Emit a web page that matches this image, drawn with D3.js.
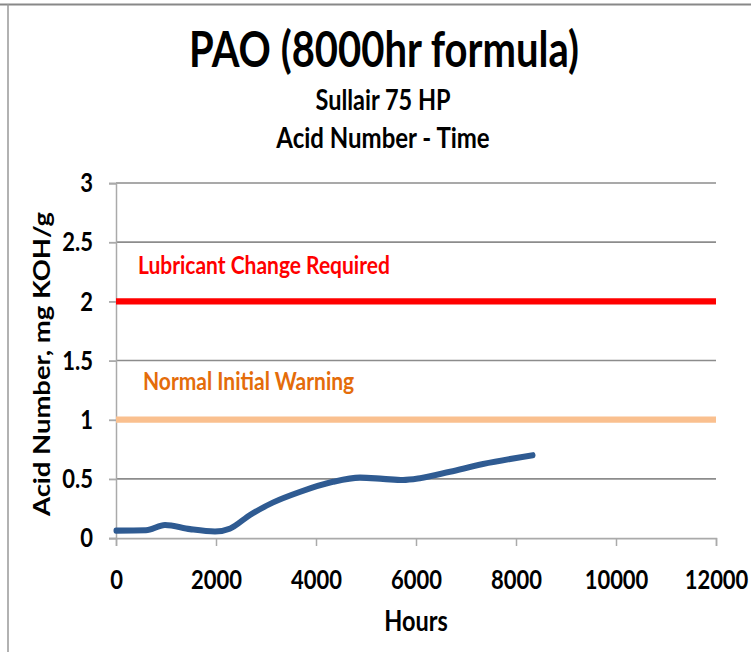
<!DOCTYPE html>
<html>
<head>
<meta charset="utf-8">
<script src="https://cdn.jsdelivr.net/npm/d3@7"></script>
<style>
  body { margin: 0; background: #fff; }
  svg { display: block; }
  text { font-family: Lato, "Open Sans", sans-serif; font-weight: bold; }
</style>
</head>
<body>
<div id="chart"></div>
<script>
  'use strict'
  // data
  let hours = [0, 600, 980, 1480, 1980, 2280, 2680, 3140, 3680, 4340, 4880, 5340, 5740, 6080, 6680, 7340, 8340]
  let acid = [0.062, 0.065, 0.11, 0.075, 0.055, 0.08, 0.195, 0.30, 0.39, 0.475, 0.51, 0.50, 0.49, 0.505, 0.56, 0.625, 0.70]
  let xTicks = [0, 2000, 4000, 6000, 8000, 10000, 12000]
  let yTicks = [0, 0.5, 1, 1.5, 2, 2.5, 3]
  let limitValues = [2, 1]
  let limitLabels = ["Lubricant Change Required", "Normal Initial Warning"]
  let limitColors = ["#ff0000", "#fac08f"]
  let labelColors = ["#ff0000", "#e46c0a"]

  // the original picture is stretched vertically, so draw in a shorter box and stretch it
  let w = 751, h = 652
  let k = 1.22
  let ih = h / k

  let svg = d3.select("#chart").append("svg")
    .attr("width", w)
    .attr("height", h)
    .attr("viewBox", "0 0 " + w + " " + ih)
    .attr("preserveAspectRatio", "none")

  // frame
  svg.append("line").attr("x1", 0).attr("x2", w).attr("y1", 4.5 / k).attr("y2", 4.5 / k)
    .attr("stroke", "#888").attr("stroke-width", 1.8)
  svg.append("line").attr("x1", 8).attr("x2", 8).attr("y1", 4 / k).attr("y2", ih)
    .attr("stroke", "#999").attr("stroke-width", 1.5)

  let x = d3.scaleLinear().domain([0, 12000]).range([116, 716])
  let y = d3.scaleLinear().domain([0, 3]).range([538 / k, 183 / k])

  // gridlines
  svg.append("g").selectAll("line")
    .data(yTicks.filter(function(d){ return d > 0 }))
    .enter().append("line")
    .attr("x1", x(0)).attr("x2", x(12000))
    .attr("y1", function(d){ return y(d) }).attr("y2", function(d){ return y(d) })
    .attr("stroke", "#8c8c8c").attr("stroke-width", 1.4)

  let yAxis = svg.append("g")
    .attr("transform", "translate(" + x(0) + ",0)")
    .call(d3.axisLeft(y).tickValues(yTicks).tickSize(7).tickPadding(16).tickFormat(d3.format("")))
  let xAxis = svg.append("g")
    .attr("transform", "translate(0," + y(0) + ")")
    .call(d3.axisBottom(x).tickValues(xTicks).tickSize(8 / k).tickPadding(20).tickFormat(d3.format("")))

  ;[yAxis, xAxis].forEach(function(a){
    a.select(".domain").attr("stroke", "#aaa").attr("stroke-width", 1.5)
    a.selectAll(".tick line").attr("stroke", "#aaa").attr("stroke-width", 1.5)
    a.selectAll("text").style("font-size", "22px").attr("fill", "#000")
      .style("font-family", "Lato, sans-serif").style("font-weight", "bold")
  })

  // threshold lines
  svg.append("g").selectAll("line")
    .data(limitValues)
    .enter().append("line")
    .attr("x1", x(0)).attr("x2", x(12000))
    .attr("y1", function(d){ return y(d) }).attr("y2", function(d){ return y(d) })
    .attr("stroke", function(d, i){ return limitColors[i] })
    .attr("stroke-width", 5)

  svg.append("g").selectAll("text")
    .data(limitValues)
    .enter().append("text")
    .attr("x", function(d, i){ return i == 0 ? 138 : 143 })
    .attr("y", function(d, i){ return (i == 0 ? 274 : 390) / k })
    .attr("fill", function(d, i){ return labelColors[i] })
    .style("font-size", "21px")
    .text(function(d, i){ return limitLabels[i] })

  // acid number curve
  let line = d3.line()
    .x(function(d, i){ return x(hours[i]) })
    .y(function(d){ return y(d) })
    .curve(d3.curveMonotoneX)

  svg.append("path")
    .datum(acid)
    .attr("d", line)
    .attr("fill", "none")
    .attr("stroke", "#2f5b92")
    .attr("stroke-width", 5)
    .attr("stroke-linecap", "round")

  // titles
  svg.append("text").attr("x", 384).attr("y", 67 / k).attr("text-anchor", "middle")
    .style("font-size", "40px").text("PAO (8000hr formula)")
  svg.append("text").attr("x", 383).attr("y", 110 / k).attr("text-anchor", "middle")
    .style("font-size", "23.5px").text("Sullair 75 HP")
  svg.append("text").attr("x", 383).attr("y", 148 / k).attr("text-anchor", "middle")
    .style("font-size", "24px").text("Acid Number - Time")

  svg.append("text").attr("x", x(6000)).attr("y", 631 / k).attr("text-anchor", "middle")
    .style("font-size", "23.5px").text("Hours")
  svg.append("text")
    .attr("transform", "translate(50," + (364 / k) + ") rotate(-90)")
    .attr("text-anchor", "middle")
    .style("font-size", "22.5px").text("Acid Number, mg KOH/g")
</script>
</body>
</html>
